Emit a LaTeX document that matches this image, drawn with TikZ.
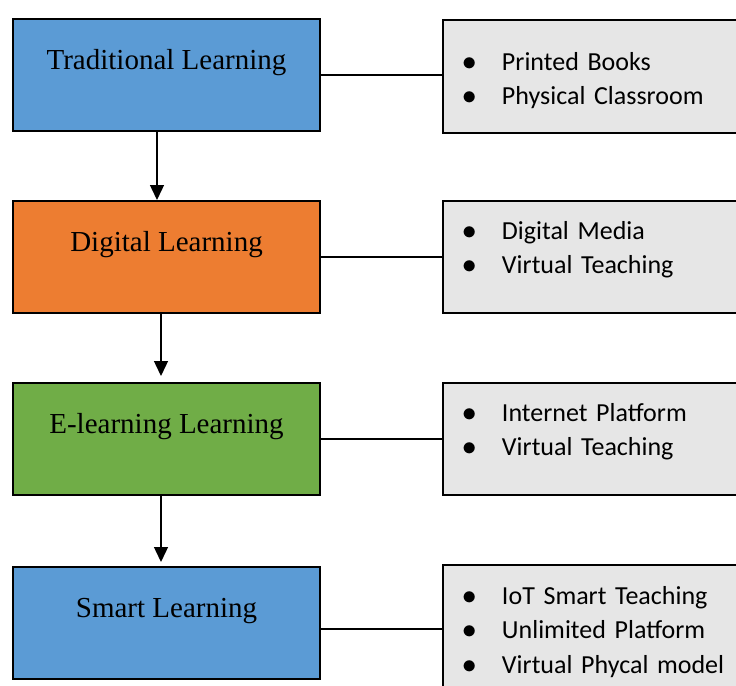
\documentclass[tikz,border=0pt]{standalone}
\usepackage{fontspec}
\setmainfont{Liberation Serif}
\newfontfamily\listfont{Carlito}
\usetikzlibrary{arrows.meta}

\definecolor{stageblue}{HTML}{5B9BD5}
\definecolor{stageorange}{HTML}{ED7D31}
\definecolor{stagegreen}{HTML}{70AD47}
\definecolor{featgray}{HTML}{E6E6E6}

\tikzset{
    stage/.style={draw=black, line width=1pt, anchor=north west,
        minimum width=153.5pt, inner xsep=0pt, inner ysep=0pt,
        text height=25pt, text depth=31pt,
        font=\fontsize{14.5}{17}\selectfont},
    feature/.style={draw=black, line width=1pt, fill=featgray,
        anchor=north west, text width=139.2pt, inner xsep=9.9pt,
        inner ysep=0pt, align=left,
        font=\listfont\fontsize{13}{17.25}\selectfont},
    link/.style={line width=0.6pt},
    flow/.style={line width=0.7pt, -{Triangle[width=7pt,length=7.5pt]}}
}

\newcommand{\bul}{\makebox[19.6pt][l]{\Large$\bullet$}}

\begin{document}
\begin{tikzpicture}[x=0.5pt, y=-0.5pt]

    \clip (0,0) rectangle (736,686);

    %% Stages of learning

    % Left column
    \node[stage, fill=stageblue] (t1) at (12,18) {Traditional Learning};
    \node[stage, fill=stageorange] (t2) at (12,200) {Digital Learning};
    \node[stage, fill=stagegreen] (t3) at (12,382) {E-learning Learning};
    \node[stage, fill=stageblue] (t4) at (12,566) {Smart Learning};

    % Right column
    \node[feature, text height=25pt, text depth=31.5pt] (f1) at (442,19)
        {\bul Printed Books\\ \bul Physical Classroom};
    \node[feature, text height=19pt, text depth=37pt] (f2) at (442,200)
        {\bul Digital Media\\ \bul Virtual Teaching};
    \node[feature, text height=19pt, text depth=37pt] (f3) at (442,382)
        {\bul Internet Platform\\ \bul Virtual Teaching};
    \node[feature, text height=19.5pt, text depth=44.5pt] (f4) at (442,564)
        {\bul IoT Smart Teaching\\ \bul Unlimited Platform\\ \bul Virtual Phycal model};

    % Links
    \draw[link] (t1.east) -- (t1.east -| f1.west);
    \draw[link] (t2.east) -- (t2.east -| f2.west);
    \draw[link] (t3.east) -- (t3.east -| f3.west);
    \draw[link] (f4.west -| t4.east) -- (f4.west);

    % Flow
    \draw[flow] ([xshift=-4.75pt]t1.south) -- ([xshift=-4.75pt]t2.north);
    \draw[flow, shorten >=3pt] ([xshift=-2.75pt]t2.south) -- ([xshift=-2.75pt]t3.north);
    \draw[flow, shorten >=2pt] ([xshift=-2.75pt]t3.south) -- ([xshift=-2.75pt]t4.north);

\end{tikzpicture}
\end{document}
